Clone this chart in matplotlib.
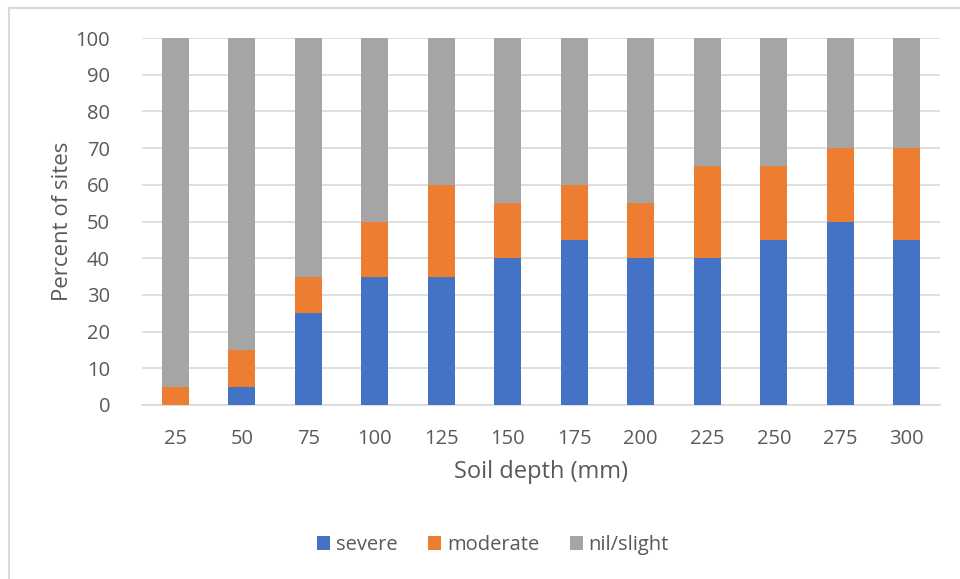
import matplotlib
matplotlib.use("Agg")
import matplotlib.pyplot as plt
from matplotlib.lines import Line2D
import numpy as np

categories = ["25", "50", "75", "100", "125", "150", "175", "200", "225", "250", "275", "300"]
severe = [0, 5, 25, 35, 35, 40, 45, 40, 40, 45, 50, 45]
moderate = [5, 10, 10, 15, 25, 15, 15, 15, 25, 20, 20, 25]
nil_slight = [100 - s - m for s, m in zip(severe, moderate)]

plt.rcParams['font.family'] = ['Open Sans', 'DejaVu Sans']
txt = '#595959'

fig = plt.figure(figsize=(9.6, 5.79), dpi=100)
W, H = 960, 579
ax = fig.add_axes([142 / W, 1 - 405 / H, (940 - 142) / W, (405 - 38) / H])

x = np.arange(len(categories))
bw = 0.4
ax.bar(x, severe, bw, color='#4472C4', label='severe', zorder=3)
ax.bar(x, moderate, bw, bottom=severe, color='#ED7D31', label='moderate', zorder=3)
bottom2 = [s + m for s, m in zip(severe, moderate)]
ax.bar(x, nil_slight, bw, bottom=bottom2, color='#A5A5A5', label='nil/slight', zorder=3)

ax.set_xlim(-0.5, len(categories) - 0.5)
ax.set_ylim(0, 100)
ax.set_yticks(range(0, 101, 10))
ax.set_xticks(x)
ax.set_xticklabels(categories)
ax.yaxis.grid(True, color='#d9d9d9', linewidth=1.2, zorder=0)
ax.set_axisbelow(True)
for s in ['top', 'right', 'left']:
    ax.spines[s].set_visible(False)
ax.spines['bottom'].set_color('#d9d9d9')
ax.spines['bottom'].set_linewidth(1.2)
ax.tick_params(axis='both', length=0, labelsize=14.5, labelcolor=txt)
ax.tick_params(axis='y', pad=23)
ax.tick_params(axis='x', pad=17)

ax.set_ylabel('Percent of sites', fontsize=16, color=txt, labelpad=2)
ax.set_xlabel('Soil depth (mm)', fontsize=17, color=txt, labelpad=8)

leg = fig.legend(loc='center', bbox_to_anchor=(493 / W, 1 - 545 / H), ncol=3, frameon=False,
                 fontsize=14.5, handlelength=0.65, handleheight=0.65, handletextpad=0.3,
                 columnspacing=1.5)
for t in leg.get_texts():
    t.set_color(txt)

# chart border (left and top edges visible)
fig.add_artist(Line2D([9 / W, 9 / W], [0, 1 - 8 / H], color='#d9d9d9', linewidth=1.5, transform=fig.transFigure))
fig.add_artist(Line2D([9 / W, 1], [1 - 8 / H, 1 - 8 / H], color='#d9d9d9', linewidth=1.5, transform=fig.transFigure))

fig.savefig('out.png', dpi=100)
